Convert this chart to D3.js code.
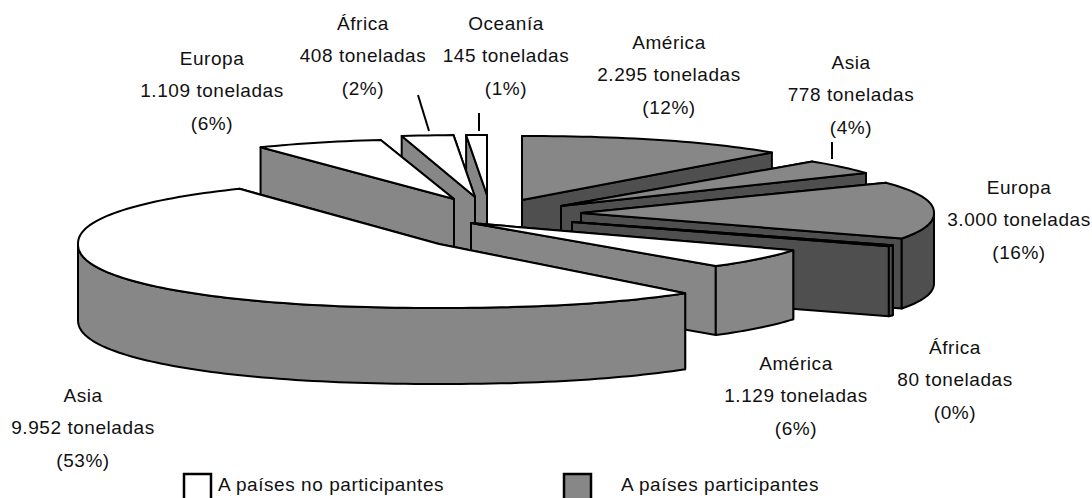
<!DOCTYPE html>
<html>
<head>
<meta charset="utf-8">
<script src="https://cdn.jsdelivr.net/npm/d3@7"></script>
<style>
    html, body { margin: 0; padding: 0; background: #fff; overflow: hidden; }
    text { font-family: "Liberation Sans", Arial, sans-serif; font-size: 19px; letter-spacing: 0.55px; fill: #111; }
</style>
</head>
<body>
<div id="container"></div>
<script>
// data (clockwise from 12 o'clock)
const regions = ["América", "Asia", "Europa", "África", "América", "Asia", "Europa", "África", "Oceanía"];
const tons = [2295, 778, 3000, 80, 1129, 9952, 1109, 408, 145];
const participant = [true, true, true, true, false, false, false, false, false];
const legendLabels = ["A países no participantes", "A países participantes"];

// layout of each exploded slice, same order as the data
const apexX = [522, 561, 581, 572, 471, 439, 454, 475, 487];
const apexY = [200, 206, 213, 222, 223, 244, 199, 197, 195];
const radiusX = [351, 353, 353, 353, 359, 361, 350, 350, 340];
const radiusY = [64, 60, 55, 50, 56, 64, 60, 62, 60];
const depth = [70, 70, 70, 70, 69, 76, 70, 70, 70];
const labelX = [669, 851, 1019, 955, 796, 83, 212, 363, 506];
const labelY = [49, 69, 194, 354, 370, 402, 65, 30, 30];
const lineGap = 32.3;

// paint order, back to front
const paintOrder = [0, 8, 7, 6, 1, 2, 3, 4, 5];

const leaders = [
    { x1: 418, y1: 95, x2: 429, y2: 131 },
    { x1: 479, y1: 113, x2: 479, y2: 131 },
    { x1: 832, y1: 142, x2: 832, y2: 159 }
];

const width = 1092, height = 498;
const white = "#ffffff", grey = "#878787", dark = "#4f4f4f";
const squareness = 0.92;

const svg = d3.select("#container").append("svg")
    .attr("width", width)
    .attr("height", height);

const arcs = d3.pie().sort(null).value(d => d)(tons);
const total = d3.sum(tons);
const esFormat = d3.formatLocale({ decimal: ",", thousands: ".", grouping: [3], currency: ["", ""] });
const fmtTons = esFormat.format(",d");

const line = d3.line();

function signedPow(v) {
    return Math.sign(v) * Math.pow(Math.abs(v), squareness);
}

// rim point of a slice at an angle, dropped by dz
function rimPoint(i, a, dz) {
    return [
        apexX[i] + radiusX[i] * signedPow(Math.sin(a)),
        apexY[i] - radiusY[i] * signedPow(Math.cos(a)) + dz
    ];
}

function rimPoints(i, a0, a1, dz) {
    const n = Math.max(2, Math.ceil((a1 - a0) * 40));
    return d3.range(n + 1).map(k => rimPoint(i, a0 + (a1 - a0) * k / n, dz));
}

function drawPoly(pts, fill) {
    svg.append("path")
        .attr("d", line(pts) + "Z")
        .attr("fill", fill)
        .attr("stroke", "#000")
        .attr("stroke-width", 2)
        .attr("stroke-linejoin", "round");
}

function radialWall(i, a, fill) {
    const d = depth[i];
    const p = rimPoint(i, a, 0);
    drawPoly([[apexX[i], apexY[i]], p, [p[0], p[1] + d], [apexX[i], apexY[i] + d]], fill);
}

function drawSlice(i) {
    const a0 = arcs[i].startAngle, a1 = arcs[i].endAngle;
    const faceColor = participant[i] ? grey : white;
    const wallColor = participant[i] ? dark : grey;
    const mid = (a0 + a1) / 2;

    // hidden radial wall first, then the one facing us
    if (mid < Math.PI) {
        radialWall(i, a0, wallColor);
        radialWall(i, a1, wallColor);
    } else {
        radialWall(i, a1, wallColor);
        radialWall(i, a0, wallColor);
    }

    // outer wall, front half of the ellipse only
    const f0 = Math.max(a0, Math.PI / 2), f1 = Math.min(a1, 3 * Math.PI / 2);
    if (f1 > f0) {
        drawPoly(rimPoints(i, f0, f1, 0).concat(rimPoints(i, f0, f1, depth[i]).reverse()), wallColor);
    }

    // top face
    drawPoly([[apexX[i], apexY[i]]].concat(rimPoints(i, a0, a1, 0)), faceColor);
}

paintOrder.forEach(drawSlice);

// leader lines
svg.selectAll("line.leader").data(leaders).enter().append("line")
    .attr("class", "leader")
    .attr("x1", d => d.x1).attr("y1", d => d.y1)
    .attr("x2", d => d.x2).attr("y2", d => d.y2)
    .attr("stroke", "#000")
    .attr("stroke-width", 2);

// labels
regions.forEach(function(name, i) {
    const rows = [name, `${fmtTons(tons[i])} toneladas`, `(${Math.round(tons[i] / total * 100)}%)`];
    svg.append("g").selectAll("text").data(rows).enter().append("text")
        .attr("x", labelX[i])
        .attr("y", (d, k) => labelY[i] + k * lineGap)
        .attr("text-anchor", "middle")
        .text(d => d);
});

// legend, runs off the bottom of the picture like the original
const legendX = [184, 564];
const legendTextX = [218, 621];
legendLabels.forEach(function(label, i) {
    svg.append("rect")
        .attr("x", legendX[i]).attr("y", 474)
        .attr("width", 27).attr("height", 30)
        .attr("fill", i === 0 ? white : grey)
        .attr("stroke", "#000")
        .attr("stroke-width", 2.5);
    svg.append("text")
        .attr("x", legendTextX[i]).attr("y", 491)
        .text(label);
});
</script>
</body>
</html>
